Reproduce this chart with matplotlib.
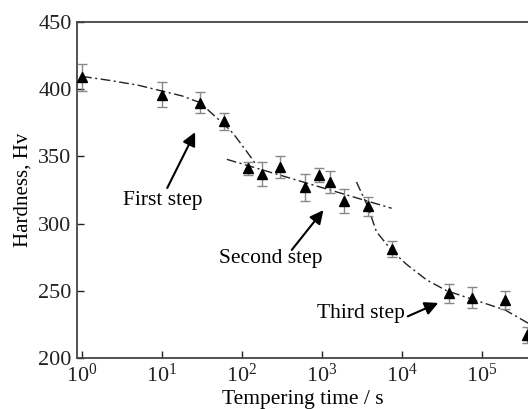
import numpy as np
import matplotlib
matplotlib.use("Agg")
import matplotlib.pyplot as plt

plt.rcParams['font.family'] = ['Liberation Serif', 'DejaVu Serif']
plt.rcParams['mathtext.fontset'] = 'stix'

# measured data
time_s = [1, 10, 30, 60, 120, 180, 300, 610, 920, 1240, 1880, 3730, 7400,
          38800, 76000, 195000, 360000]
hardness = [409, 396, 390, 376, 341, 337, 342, 327, 336, 331, 317, 313, 281,
            248, 245, 243, 217]
err = [10, 9, 8, 6, 5, 9, 8, 10, 5, 8, 9, 7, 6, 7, 8, 6.5, 6]

# fitted trend curves (log10 time, hardness)
c1_logt = [0.0, 0.35, 0.7, 0.975, 1.25, 1.475, 1.64, 1.79, 1.89, 2.06, 2.18]
c1_h = [409.5, 406.5, 403, 399, 395, 390, 381, 373, 367, 353.5, 343.6]
c2_logt = [1.81, 3.87]
c2_h = [347.8, 311.4]
c3_logt = [3.43, 3.57, 3.68, 3.87, 4.06, 4.31, 4.56, 4.88, 5.29, 5.58]
c3_h = [331, 313, 294, 280, 269.5, 258, 250, 243.7, 235.7, 225.8]

fig = plt.figure(figsize=(5.28, 4.09), dpi=100)
ax = fig.add_axes([0.146, 0.1247, 0.854, 0.8215])

for lt, h in [(c1_logt, c1_h), (c2_logt, c2_h), (c3_logt, c3_h)]:
    ax.plot(10 ** np.array(lt), h, color='#222222', lw=1.0,
            linestyle=(0, (7, 2.5, 1.5, 2.5)))

ax.errorbar(time_s, hardness, yerr=err, fmt='none', ecolor='#888888',
            elinewidth=1.0, capsize=3.5, capthick=1.0, zorder=3)
ax.plot(time_s, hardness, linestyle='none', marker='^', color='black',
        markersize=7, zorder=4)

ax.set_xscale('log')
ax.set_xlim(10 ** -0.0625, 10 ** 5.575)
ax.set_ylim(200, 450)
ax.set_yticks([200, 250, 300, 350, 400, 450])
ax.set_xticks([1, 10, 100, 1e3, 1e4, 1e5])
ax.set_xticklabels([r'$\mathregular{10^{%d}}$' % i for i in range(6)])
ax.minorticks_off()
ax.tick_params(direction='in', length=5, width=1.0, labelsize=16,
               colors='#222222', pad=4)
for s in ['left', 'bottom', 'top']:
    ax.spines[s].set_linewidth(1.3)
    ax.spines[s].set_color('#444444')
ax.spines['right'].set_visible(False)

ax.set_xlabel('Tempering time / s', fontsize=15.5, labelpad=2)
ax.set_ylabel('Hardness, Hv', fontsize=15, labelpad=4)

arrow = dict(arrowstyle='-|>', color='black', lw=1.5, mutation_scale=20,
             shrinkA=0, shrinkB=0)
ax.annotate('', xy=(25.9, 368), xytext=(11.6, 326.5), arrowprops=arrow)
ax.text(10.1, 317, 'First step', fontsize=15.5, ha='center', va='center')
ax.annotate('', xy=(1040, 310), xytext=(418, 280.4), arrowprops=arrow)
ax.text(230, 274, 'Second step', fontsize=15.5, ha='center', va='center')
ax.annotate('', xy=(28400, 241), xytext=(11800, 231), arrowprops=arrow)
ax.text(3050, 233.2, 'Third step', fontsize=15.5, ha='center', va='center')

fig.savefig('out.png', dpi=100)
